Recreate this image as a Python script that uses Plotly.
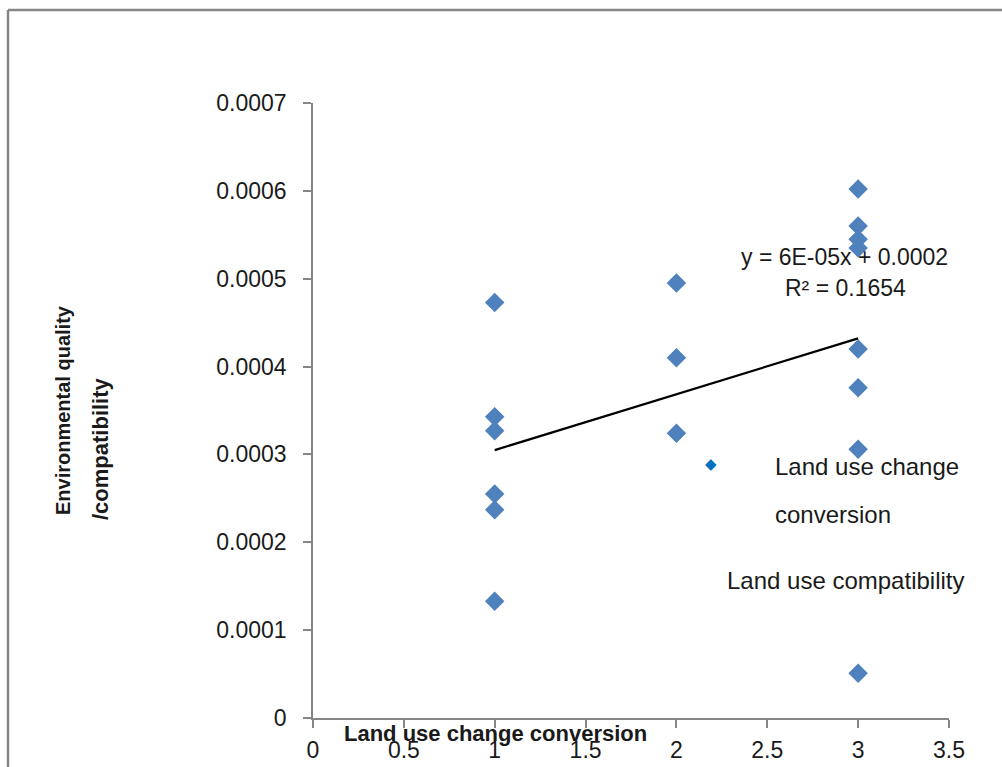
import numpy as np
import plotly.graph_objects as go

# ---- data ----
x_conversion = [1, 1, 1, 1, 1, 1,
                2, 2, 2,
                3, 3, 3, 3, 3, 3, 3, 3]
y_compat = [0.000473, 0.000343, 0.000327, 0.000255, 0.000237, 0.000133,
            0.000495, 0.000410, 0.000324,
            0.000602, 0.000560, 0.000545, 0.000535, 0.000420, 0.000376, 0.000306, 0.000051]

x_ticks = [0, 0.5, 1, 1.5, 2, 2.5, 3, 3.5]
x_ticktext = ["0", "0.5", "1", "1.5", "2", "2.5", "3", "3.5"]
y_ticks = [0, 0.0001, 0.0002, 0.0003, 0.0004, 0.0005, 0.0006, 0.0007]
y_ticktext = ["0", "0.0001", "0.0002", "0.0003", "0.0004", "0.0005", "0.0006", "0.0007"]

series_name = "Land use change conversion"
trend_name = "Land use compatibility"
eq_text = "y = 6E-05x + 0.0002"
r2_text = "R² = 0.1654"
x_title = "Land use change conversion"
y_title_1 = "Environmental quality"
y_title_2 = "/compatibility"

# ---- layout geometry (reference pixel positions) ----
W, H = 1002, 767
L, R, T, B = 313, 53, 103, 49
PW, PH = W - L - R, H - T - B


def px(xp):
    return (xp - L) / PW


def py(yp):
    return (H - B - yp) / PH


FONT = "Liberation Sans"
AXIS_COLOR = "#868686"
TXT = "#1a1a1a"

# linear trendline (Excel-style, spanning min..max x)
slope, intercept = np.polyfit(np.array(x_conversion, float), np.array(y_compat, float), 1)
tx = np.array([min(x_conversion), max(x_conversion)], float)
ty = slope * tx + intercept

fig = go.Figure()
fig.add_trace(go.Scatter(
    x=x_conversion, y=y_compat, mode="markers", name=series_name,
    marker=dict(symbol="diamond", size=15, color="#4F81BD", line=dict(width=0)),
    showlegend=False,
))
fig.add_trace(go.Scatter(
    x=tx, y=ty, mode="lines", name=trend_name,
    line=dict(color="black", width=2.2), showlegend=False,
))


def ann(text, xp, yp, size, xanchor="center", angle=0, family=FONT, color=TXT):
    return dict(text=text, x=px(xp), y=py(yp), xref="paper", yref="paper",
                xanchor=xanchor, yanchor="middle", textangle=angle, showarrow=False,
                font=dict(family=family, size=size, color=color))


annotations = [
    ann(eq_text, 844, 257, 23),
    ann(r2_text, 845, 288, 23),
    # legend
    ann("◆", 711, 464, 15, family="DejaVu Sans", color="#0070C0"),
    ann("Land use change", 773, 466, 24, xanchor="left"),
    ann("conversion", 773, 514, 24, xanchor="left"),
    ann(trend_name, 725, 580, 24, xanchor="left"),
    # axis titles
    ann("<b>" + x_title + "</b>", 495, 733, 22),
    ann("<b>" + y_title_1 + "</b>", 63, 410, 20, angle=-90),
    ann("<b>" + y_title_2 + "</b>", 100, 449, 22, angle=-90),
]

shapes = [
    # outer chart-area border (cropped at right and bottom)
    dict(type="line", xref="paper", yref="paper", x0=px(8), y0=py(10), x1=px(1020), y1=py(10),
         line=dict(color=AXIS_COLOR, width=2.5)),
    dict(type="line", xref="paper", yref="paper", x0=px(8), y0=py(10), x1=px(8), y1=py(800),
         line=dict(color=AXIS_COLOR, width=2.5)),
]

fig.update_layout(
    width=W, height=H,
    margin=dict(l=L, r=R, t=T, b=B, pad=0, autoexpand=False),
    paper_bgcolor="white", plot_bgcolor="white",
    font=dict(family=FONT, size=23, color=TXT),
    annotations=annotations, shapes=shapes,
    showlegend=False,
)
fig.update_xaxes(
    range=[0, 3.5], tickvals=x_ticks, ticktext=x_ticktext, automargin=False,
    showgrid=False, zeroline=False, showline=True, linecolor=AXIS_COLOR, linewidth=1.5,
    ticks="outside", ticklen=8, tickcolor=AXIS_COLOR, tickwidth=1.5,
    ticklabelstandoff=3, tickfont=dict(family=FONT, size=23, color=TXT),
)
fig.update_yaxes(
    range=[0, 0.0007], tickvals=y_ticks, ticktext=y_ticktext, automargin=False,
    showgrid=False, zeroline=False, showline=True, linecolor=AXIS_COLOR, linewidth=1.5,
    ticks="outside", ticklen=8, tickcolor=AXIS_COLOR, tickwidth=1.5,
    ticklabelstandoff=12, tickfont=dict(family=FONT, size=23, color=TXT),
)

fig.write_html(
    "out.html",
    config={"displayModeBar": False},
    post_script="document.body.style.margin='0';document.body.style.overflow='hidden';",
)
